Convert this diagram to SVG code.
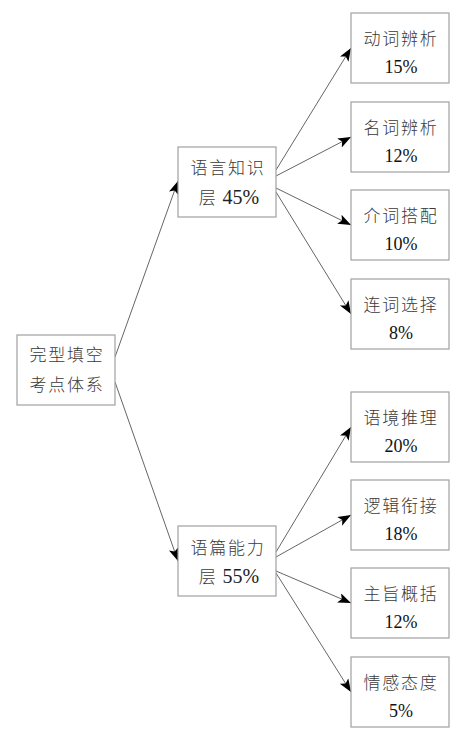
<svg xmlns="http://www.w3.org/2000/svg" width="460" height="740" viewBox="0 0 460 740">
<defs>
<marker id="arr" markerUnits="userSpaceOnUse" markerWidth="14" markerHeight="11" refX="13" refY="5" orient="auto">
<path d="M0,0 L13,5 L0,10 L3,5 z" fill="#000"/>
</marker>
<style>
.box{fill:#fff;stroke:#a0a0a0;stroke-width:1.2}
.cjk{font-family:"Liberation Serif","Noto Sans CJK SC",serif;font-size:17px;font-weight:300;fill:#3a3a3a;letter-spacing:1.8px;text-anchor:middle}
.num{font-family:"Liberation Serif","Noto Sans CJK SC",serif;font-size:18px;fill:#111;text-anchor:middle}
.mnum{font-family:"Liberation Serif","Noto Sans CJK SC",serif;font-size:20px;fill:#222;text-anchor:middle}
.edge{stroke:#555;stroke-width:0.9;fill:none;marker-end:url(#arr)}
</style>
</defs>
<rect width="460" height="740" fill="#fff"/>
<g id="connectors">
<line class="edge" x1="115" y1="357" x2="178" y2="181"/>
<line class="edge" x1="115" y1="382" x2="178" y2="561"/>
<line class="edge" x1="276" y1="170" x2="351" y2="48"/>
<line class="edge" x1="276" y1="176" x2="351" y2="137"/>
<line class="edge" x1="276" y1="188" x2="351" y2="225"/>
<line class="edge" x1="276" y1="192" x2="351" y2="314"/>
<line class="edge" x1="276" y1="552" x2="351" y2="427"/>
<line class="edge" x1="276" y1="557" x2="351" y2="515"/>
<line class="edge" x1="276" y1="571" x2="351" y2="603"/>
<line class="edge" x1="276" y1="573" x2="351" y2="692"/>
</g>
<g id="root">
<rect class="box" x="17" y="335" width="98" height="70"/>
<text class="cjk" x="67" y="361">完型填空</text>
<text class="cjk" x="67" y="391">考点体系</text>
</g>
<g id="lang">
<rect class="box" x="178" y="147" width="98" height="70"/>
<text class="cjk" x="228" y="174">语言知识</text>
<text class="mnum" x="229" y="204"><tspan class="cjk">层</tspan> 45%</text>
</g>
<g id="text">
<rect class="box" x="178" y="526" width="98" height="70"/>
<text class="cjk" x="228" y="554">语篇能力</text>
<text class="mnum" x="229" y="583"><tspan class="cjk">层</tspan> 55%</text>
</g>
<g id="leaf1">
<rect class="box" x="351" y="13" width="98" height="70"/>
<text class="cjk" x="401" y="45">动词辨析</text>
<text class="num" x="401" y="73">15%</text>
</g>
<g id="leaf2">
<rect class="box" x="351" y="102" width="98" height="70"/>
<text class="cjk" x="401" y="134">名词辨析</text>
<text class="num" x="401" y="162">12%</text>
</g>
<g id="leaf3">
<rect class="box" x="351" y="190" width="98" height="70"/>
<text class="cjk" x="401" y="222">介词搭配</text>
<text class="num" x="401" y="250">10%</text>
</g>
<g id="leaf4">
<rect class="box" x="351" y="279" width="98" height="70"/>
<text class="cjk" x="401" y="311">连词选择</text>
<text class="num" x="401" y="339">8%</text>
</g>
<g id="leaf5">
<rect class="box" x="351" y="392" width="98" height="70"/>
<text class="cjk" x="401" y="424">语境推理</text>
<text class="num" x="401" y="452">20%</text>
</g>
<g id="leaf6">
<rect class="box" x="351" y="480" width="98" height="70"/>
<text class="cjk" x="401" y="512">逻辑衔接</text>
<text class="num" x="401" y="540">18%</text>
</g>
<g id="leaf7">
<rect class="box" x="351" y="568" width="98" height="70"/>
<text class="cjk" x="401" y="600">主旨概括</text>
<text class="num" x="401" y="628">12%</text>
</g>
<g id="leaf8">
<rect class="box" x="351" y="657" width="98" height="70"/>
<text class="cjk" x="401" y="689">情感态度</text>
<text class="num" x="401" y="717">5%</text>
</g>
</svg>
